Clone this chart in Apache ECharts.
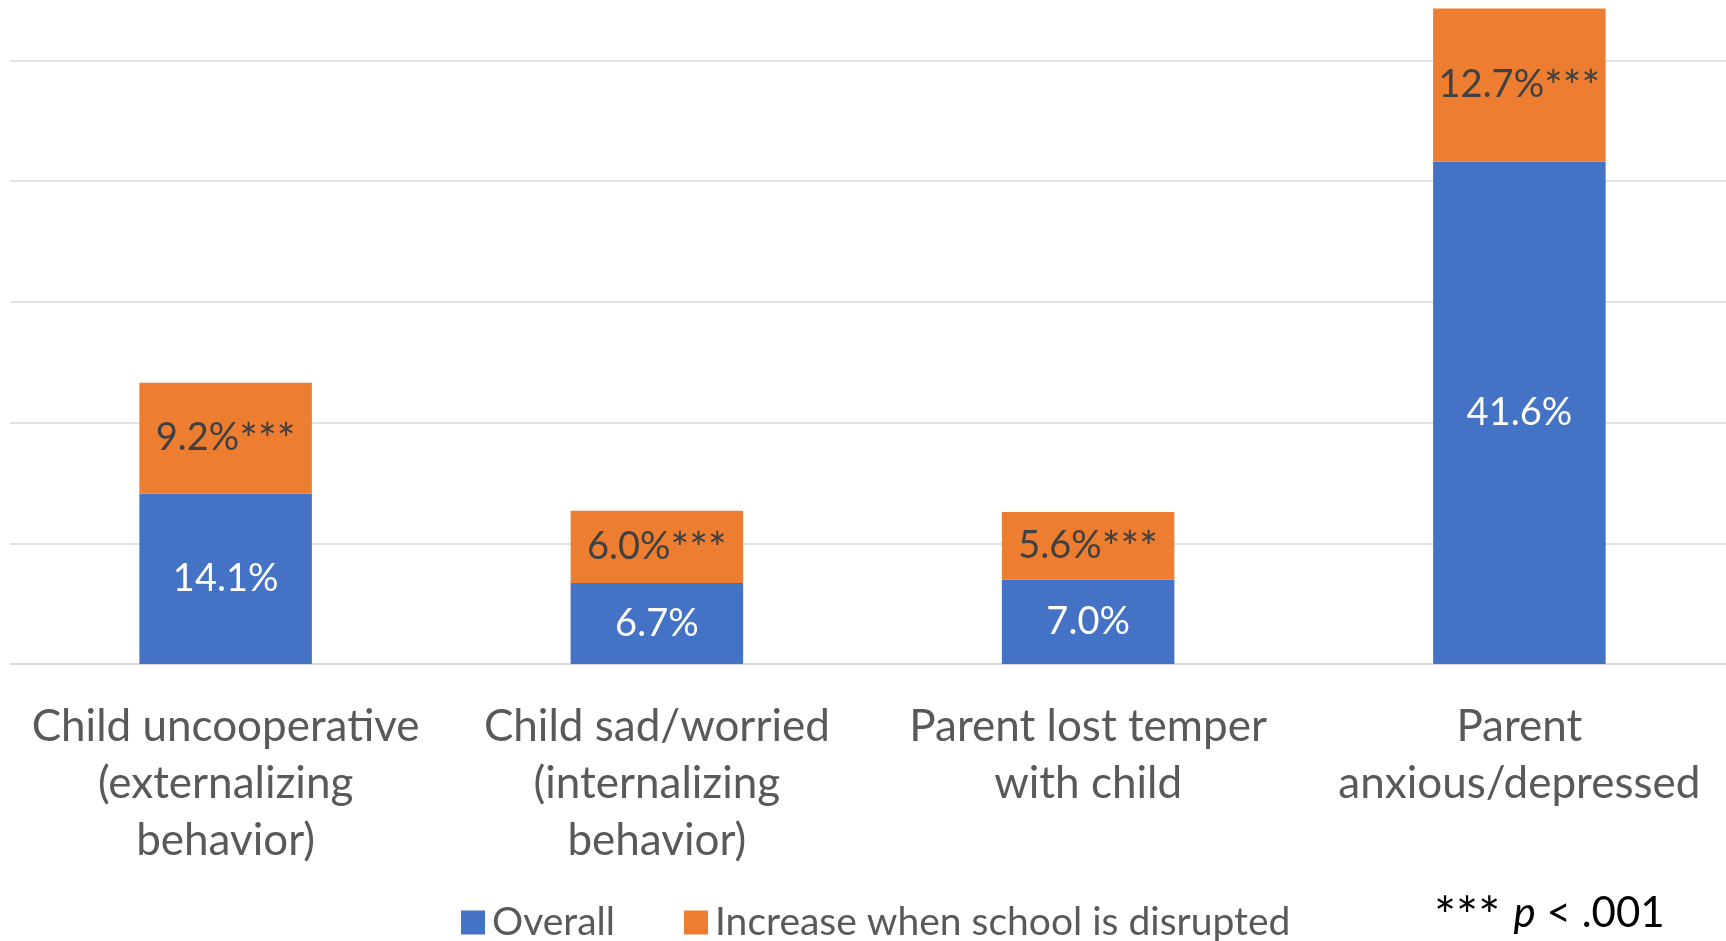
<!DOCTYPE html>
<html>
<head>
<meta charset="utf-8">
<script src="https://cdn.jsdelivr.net/npm/echarts@6/dist/echarts.min.js"></script>
<style>
  html, body { margin: 0; padding: 0; background: #ffffff; }
  #chart { width: 1726px; height: 941px; }
</style>
</head>
<body>
<div id="chart"></div>
<script>
// Categories along the x axis
const categories = [
  'Child uncooperative\n(externalizing\nbehavior)',
  'Child sad/worried\n(internalizing\nbehavior)',
  'Parent lost temper\nwith child',
  'Parent\nanxious/depressed'
];
// Percent of respondents overall
const overall = [14.1, 6.7, 7.0, 41.6];
// Additional percent when school is disrupted
const increase = [9.2, 6.0, 5.6, 12.7];
const seriesNames = ['Overall', 'Increase when school is disrupted'];
const yTicks = { min: 0, max: 55, interval: 10 };

const FONT = 'Lato';

const chart = echarts.init(document.getElementById('chart'), null, { renderer: 'canvas' });

chart.setOption({
  backgroundColor: '#ffffff',
  animation: false,
  grid: { left: 10, width: 1725, top: 0, bottom: 941 - 664, outerBoundsMode: 'none', containLabel: false },
  xAxis: {
    type: 'category',
    data: categories,
    axisLine: { show: true, lineStyle: { color: '#D9D9D9', width: 1.5 } },
    axisTick: { show: false },
    axisLabel: {
      interval: 0,
      margin: 34,
      fontFamily: FONT,
      fontSize: 44,
      lineHeight: 57,
      color: '#595959',
      align: 'center'
    }
  },
  yAxis: {
    type: 'value',
    min: yTicks.min,
    max: yTicks.max,
    interval: yTicks.interval,
    axisLabel: { show: false },
    axisLine: { show: false },
    axisTick: { show: false },
    splitLine: { show: true, showMaxLine: false, lineStyle: { color: '#D9D9D9', width: 1.5 } }
  },
  legend: {
    left: 456,
    top: 898,
    itemWidth: 24,
    itemHeight: 24,
    itemGap: 69,
    icon: 'rect',
    textStyle: { fontFamily: FONT, fontSize: 39, color: '#595959', padding: [0, 0, 0, 2] },
    data: seriesNames
  },
  series: [
    {
      name: seriesNames[0],
      type: 'bar',
      stack: 'total',
      barWidth: '40%',
      data: overall,
      itemStyle: { color: '#4472C4' },
      label: {
        show: true,
        position: 'inside',
        fontFamily: FONT,
        fontSize: 38,
        color: '#ffffff',
        formatter: p => p.value.toFixed(1) + '%'
      }
    },
    {
      name: seriesNames[1],
      type: 'bar',
      stack: 'total',
      barWidth: '40%',
      data: increase,
      itemStyle: { color: '#ED7D31' },
      label: {
        show: true,
        position: 'inside',
        fontFamily: FONT,
        fontSize: 38,
        color: '#404040',
        formatter: p => p.value.toFixed(1) + '%{s|***}',
        rich: {
          s: { fontFamily: FONT, fontSize: 44, color: '#404040', padding: [6, 0, 0, 0] }
        }
      }
    }
  ],
  graphic: [
    {
      type: 'text',
      left: 1434,
      top: 892,
      style: {
        text: '{s|***\u00a0}{p|p}{a|\u00a0<\u00a0.001}',
        rich: {
          s: { fontFamily: FONT, fontSize: 52, fill: '#000000', padding: [9, 0, 0, 0] },
          a: { fontFamily: FONT, fontSize: 42, fill: '#000000' },
          p: { fontFamily: FONT, fontSize: 42, fontStyle: 'italic', fill: '#000000' }
        }
      }
    }
  ]
});
</script>
</body>
</html>
